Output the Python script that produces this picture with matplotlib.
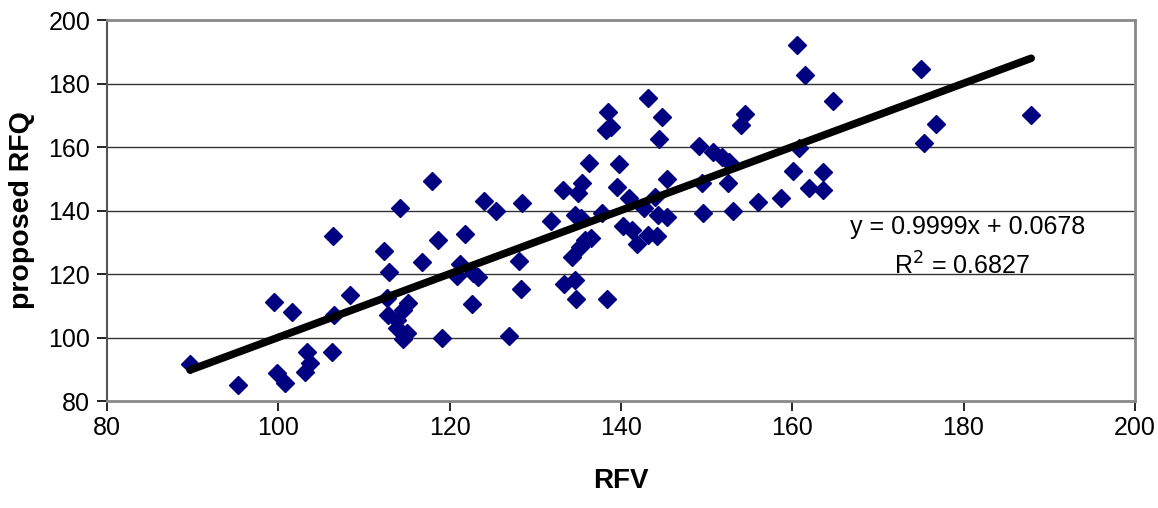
import matplotlib
matplotlib.use("Agg")
import matplotlib.pyplot as plt
import numpy as np

plt.rcParams['font.family'] = ['Liberation Sans', 'DejaVu Sans']

rfv = [89.7, 95.3, 99.5, 99.8, 100.8, 101.6, 103.3, 103.7, 103.1, 106.3,
       106.4, 106.5, 108.4, 112.3, 112.9, 114.2, 117.9, 112.7, 112.8, 113.9,
       115.1, 114.6, 113.9, 115.0, 114.6, 116.8, 118.6, 119.1, 120.9, 121.8,
       121.2, 123.3, 122.7, 122.6, 124.0, 125.4, 126.9, 128.1, 128.3, 128.4,
       131.8, 133.2, 133.3, 134.6, 134.7, 134.3, 135.2, 135.8, 136.5, 134.6,
       135.3, 135.4, 135.0, 136.3, 137.8, 138.4, 138.5, 138.2, 138.9, 139.8,
       139.5, 140.9, 140.2, 141.3, 141.9, 142.7, 143.2, 144.2, 143.2, 144.8,
       144.5, 144.0, 144.3, 145.4, 145.4, 149.1, 150.7, 151.8, 152.6, 149.5,
       152.5, 149.6, 153.1, 154.5, 154.0, 156.0, 158.7, 160.1, 160.8, 163.6,
       163.6, 161.9, 164.8, 160.5, 161.5, 175.0, 176.8, 175.4, 187.9]
rfq = [91.7, 85.0, 111.2, 88.8, 85.7, 108.0, 95.4, 92.0, 89.1, 95.4,
       132.0, 107.1, 113.4, 127.2, 120.6, 140.8, 149.3, 112.4, 107.1, 105.5,
       110.9, 108.7, 103.0, 101.4, 99.6, 123.8, 130.7, 99.8, 119.3, 132.6,
       123.1, 119.1, 120.3, 110.4, 143.0, 139.8, 100.5, 124.1, 115.3, 142.4,
       136.7, 146.5, 116.8, 118.1, 112.1, 125.4, 128.5, 130.7, 131.5, 138.6,
       137.5, 148.7, 145.5, 155.0, 139.2, 112.1, 171.0, 165.4, 166.3, 154.6,
       147.4, 143.9, 135.2, 133.9, 129.6, 140.8, 132.3, 132.0, 175.4, 169.4,
       162.5, 144.3, 138.6, 138.0, 150.0, 160.3, 158.4, 157.0, 155.2, 148.7,
       148.7, 139.2, 140.0, 170.4, 166.8, 142.8, 143.9, 152.6, 159.7, 152.0,
       146.5, 147.1, 174.4, 192.1, 182.7, 184.6, 167.2, 161.3, 170.1]

slope = 0.9999
intercept = 0.0678
r_squared = 0.6827

x_ticks = [80, 100, 120, 140, 160, 180, 200]
y_ticks = [80, 100, 120, 140, 160, 180, 200]

fig = plt.figure(figsize=(11.58, 5.08), dpi=100)
ax = fig.add_axes([0.0924, 0.2106, 0.8876, 0.75])

for yv in y_ticks[1:-1]:
    ax.axhline(yv, color='#333333', lw=1.0, zorder=1)

ax.plot(rfv, rfq, linestyle='none', marker='D', markersize=9.5,
        color='#000080', markeredgecolor='#000080', zorder=3)

xl = np.array([min(rfv), max(rfv)])
ax.plot(xl, slope * xl + intercept, color='black', lw=5.5,
        solid_capstyle='round', zorder=4)

ax.set_xlim(80, 200)
ax.set_ylim(80, 200)
ax.set_xticks(x_ticks)
ax.set_yticks(y_ticks)
ax.tick_params(axis='both', labelsize=18, length=7, width=1.2, color='black')
ax.tick_params(axis='x', pad=4)
ax.tick_params(axis='y', pad=5)

for s in ['top', 'right', 'bottom']:
    ax.spines[s].set_color('#888888')
    ax.spines[s].set_linewidth(2)
ax.spines['left'].set_color('#555555')
ax.spines['left'].set_linewidth(1.5)

ax.set_xlabel('RFV', fontsize=20, fontweight='bold', labelpad=20)
ax.set_ylabel('proposed RFQ', fontsize=20.5, fontweight='bold', labelpad=10)

ax.text(0.952, 0.458, f'y = {slope:.4f}x + {intercept:.4f}', transform=ax.transAxes,
        fontsize=18, ha='right', va='center')
ax.text(0.898, 0.355, f'R$^2$ = {r_squared:.4f}', transform=ax.transAxes,
        fontsize=18, ha='right', va='center')

fig.savefig('out.png', dpi=100)
